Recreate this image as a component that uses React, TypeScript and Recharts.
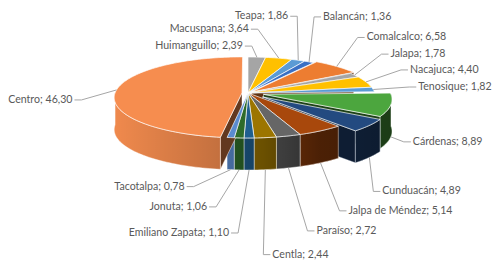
import React from 'react';
import { PieChart, Pie } from 'recharts';

// participación por municipio (%)
const municipios = [
  'Huimanguillo', 'Macuspana', 'Teapa', 'Balancán', 'Comalcalco', 'Jalapa', 'Nacajuca', 'Tenosique',
  'Cárdenas', 'Cunduacán', 'Jalpa de Méndez', 'Paraíso', 'Centla', 'Emiliano Zapata', 'Jonuta', 'Tacotalpa', 'Centro',
];
const porcentajes = [2.39, 3.64, 1.86, 1.36, 6.58, 1.78, 4.4, 1.82, 8.89, 4.89, 5.14, 2.72, 2.44, 1.1, 1.06, 0.78, 46.3];

const colores = [
  '#A5A5A5', '#FFC000', '#5B9BD5', '#3A70C4', '#ED7D31', '#A5A5A5', '#FFC000', '#5B9BD5',
  '#4CA63E', '#234A80', '#A8480C', '#666666', '#9C7500', '#1F5F8F', '#2E6B2A', '#5A8BCF', '#F68D4F',
];

// how far each slice is pulled out, px
const EXPLODE = [0, 0, 0, 0, 5, 0, 0, 0, 16, 19, 0, 0, 0, 0, 0, 0, 6];
// label text position relative to the leader line anchor
const LABEL_OFFSET: [number, number][] = [
  [-14, -12], [-30, -30], [-10, -45], [14, -46], [30, -30], [36, -22], [44, -13], [45, -3.5],
  [22, 4], [13, 33], [28, 47], [28, 62], [7, 84], [-20, 62], [-32, 36], [-46, 16], [-44, 9],
];

const rows = municipios.map((name, idx) => ({ name, value: porcentajes[idx], idx }));

const RAD = Math.PI / 180;
const K = 0.111; // perspective
const TILT = 40 / 127;
const DEPTH = 32;

function project(cx: number, cy: number, r: number, u: number, v: number) {
  const s = 1 / (1 - K * v);
  return [cx + r * u * s, cy + r * TILT * v * s];
}

function explodeOffset(idx: number, mid: number, r: number) {
  const e = EXPLODE[idx] / r;
  return [e * Math.cos(mid * RAD), -e * Math.sin(mid * RAD)];
}

function rim(cx: number, cy: number, r: number, ang: number, eu: number, ev: number) {
  return project(cx, cy, r, Math.cos(ang * RAD) + eu, -Math.sin(ang * RAD) + ev);
}

function arc(cx: number, cy: number, r: number, from: number, to: number, eu: number, ev: number, dy = 0) {
  const n = Math.max(2, Math.ceil(Math.abs(to - from) / 1.5));
  const pts: number[][] = [];
  for (let i = 0; i <= n; i++) {
    const p = rim(cx, cy, r, from + ((to - from) * i) / n, eu, ev);
    pts.push([p[0], p[1] + dy]);
  }
  return pts;
}

const toPath = (pts: number[][]) => 'M' + pts.map((p) => p[0].toFixed(2) + ',' + p[1].toFixed(2)).join('L') + 'Z';

function SideShape(props: any) {
  const { cx, cy, outerRadius: r, startAngle, endAngle, payload } = props;
  const idx = payload.idx;
  const [eu, ev] = explodeOffset(idx, (startAngle + endAngle) / 2, r);
  const color = colores[idx];
  const apex = project(cx, cy, r, eu, ev);
  const parts: React.ReactNode[] = [];
  if (EXPLODE[idx] > 0) {
    const faces: [number, boolean][] = [
      [startAngle, Math.cos(startAngle * RAD) < 0],
      [endAngle, Math.cos(endAngle * RAD) > 0],
    ];
    faces.forEach(([ang, visible], i) => {
      if (!visible) return;
      const p = rim(cx, cy, r, ang, eu, ev);
      const d = toPath([apex, p, [p[0], p[1] + DEPTH], [apex[0], apex[1] + DEPTH]]);
      parts.push(
        <g key={'f' + i}>
          <path d={d} fill={color} />
          <path d={d} fill="#000" fillOpacity={0.6} stroke="#fff" strokeWidth={0.6} strokeOpacity={0.7} />
        </g>
      );
    });
  }
  const hi = Math.min(startAngle, 0);
  const lo = Math.max(endAngle, -180);
  if (hi > lo) {
    const d = toPath([...arc(cx, cy, r, hi, lo, eu, ev), ...arc(cx, cy, r, lo, hi, eu, ev, DEPTH)]);
    parts.push(
      <g key="w">
        <path d={d} fill={color} />
        <path d={d} fill="url(#sombra)" stroke="#fff" strokeWidth={0.6} strokeOpacity={0.7} />
      </g>
    );
  }
  return <g>{parts}</g>;
}

function TopShape(props: any) {
  const { cx, cy, outerRadius: r, startAngle, endAngle, payload } = props;
  const idx = payload.idx;
  const [eu, ev] = explodeOffset(idx, (startAngle + endAngle) / 2, r);
  const apex = project(cx, cy, r, eu, ev);
  const d = toPath([apex, ...arc(cx, cy, r, startAngle, endAngle, eu, ev)]);
  return <path d={d} fill={colores[idx]} stroke="#fff" strokeWidth={0.8} strokeOpacity={0.85} />;
}

function renderLabel(props: any) {
  const { cx, cy, outerRadius: r, midAngle, payload } = props;
  const idx = payload.idx;
  const [eu, ev] = explodeOffset(idx, midAngle, r);
  const p = rim(cx, cy, r, midAngle, eu, ev);
  const front = Math.sin(midAngle * RAD) < 0;
  const ax = p[0];
  const ay = p[1] + (front ? DEPTH : 0);
  const [dx, dy] = LABEL_OFFSET[idx];
  const tx = ax + dx;
  const ty = ay + dy;
  const left = dx < 0;
  const near = left ? tx + 2 : tx - 2;
  const far = left ? tx + 9 : tx - 9;
  const text = `${municipios[idx]}; ${porcentajes[idx].toFixed(2).replace('.', ',')}`;
  return (
    <g key={'l' + idx}>
      <polyline points={`${ax},${ay} ${far},${ty + 1} ${near},${ty + 1}`} fill="none" stroke="#A6A6A6" strokeWidth={1} />
      <text x={tx} y={ty} textAnchor={left ? 'end' : 'start'} dominantBaseline="central" fill="#595959"
        fontSize={10.6} fontFamily="Lato, 'Open Sans', sans-serif">
        {text}
      </text>
    </g>
  );
}

export default function App() {
  return (
    <div style={{ position: 'absolute', left: 0, top: 0, width: 501, height: 273, background: '#fff' }}>
      <PieChart width={501} height={273} margin={{ top: 0, right: 0, bottom: 0, left: 0 }}>
        <defs>
          <linearGradient id="sombra" gradientUnits="userSpaceOnUse" x1={110} y1={0} x2={400} y2={0}>
            <stop offset="0%" stopColor="#000" stopOpacity={0.02} />
            <stop offset="37%" stopColor="#000" stopOpacity={0.2} />
            <stop offset="53%" stopColor="#000" stopOpacity={0.32} />
            <stop offset="72%" stopColor="#000" stopOpacity={0.55} />
            <stop offset="100%" stopColor="#000" stopOpacity={0.65} />
          </linearGradient>
        </defs>
        <Pie data={rows} dataKey="value" nameKey="name" cx={248} cy={93} outerRadius={127}
          startAngle={90} endAngle={-270} shape={SideShape} isAnimationActive={false} />
        <Pie data={rows} dataKey="value" nameKey="name" cx={248} cy={93} outerRadius={127}
          startAngle={90} endAngle={-270} shape={TopShape} label={renderLabel} labelLine={false}
          isAnimationActive={false} />
      </PieChart>
    </div>
  );
}
